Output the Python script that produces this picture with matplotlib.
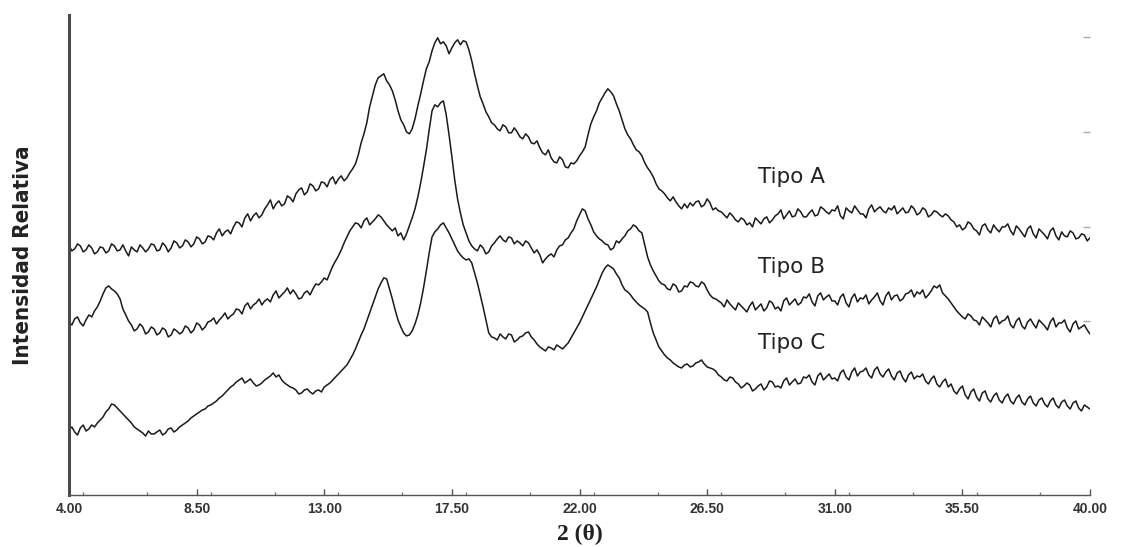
import numpy as np
import matplotlib
matplotlib.use("Agg")
import matplotlib.pyplot as plt
from matplotlib.ticker import MultipleLocator

# 2-theta grid, 0.1 deg steps
two_theta = np.round(np.arange(4.0, 40.0001, 0.1), 1)

tipo_a = [
    250, 244, 246, 251, 249, 243, 245, 250, 247, 241,   # 4
    243, 248, 247, 242, 244, 251, 249, 244, 245, 250,   # 5
    244, 239, 248, 245, 243, 250, 247, 243, 246, 251,   # 6
    250, 244, 245, 252, 249, 243, 247, 254, 252, 247,   # 7
    249, 255, 253, 248, 251, 258, 256, 251, 253, 259,   # 8
    258, 255, 262, 266, 259, 263, 265, 261, 268, 273,   # 9
    272, 268, 277, 281, 274, 279, 282, 277, 280, 286,   # 10
    290, 295, 286, 291, 294, 289, 291, 299, 297, 293,   # 11
    301, 305, 307, 300, 303, 311, 309, 304, 306, 313,   # 12
    312, 308, 315, 318, 311, 316, 319, 314, 317, 322,   # 13
    326, 331, 340, 352, 361, 372, 388, 399, 410, 417,   # 14
    419, 421, 414, 410, 404, 395, 384, 375, 370, 363,   # 15
    361, 366, 376, 389, 401, 414, 426, 433, 444, 452,   # 16
    457, 451, 453, 449, 441, 447, 452, 455, 450, 454,   # 17
    453, 445, 434, 421, 409, 398, 391, 383, 378, 372,   # 18
    370, 366, 364, 370, 368, 362, 362, 367, 363, 358,   # 19
    356, 361, 358, 352, 351, 354, 347, 342, 340, 345,   # 20
    337, 333, 332, 338, 335, 328, 327, 332, 331, 334,   # 21
    339, 343, 348, 360, 371, 378, 384, 392, 397, 402,   # 22
    406, 403, 399, 391, 384, 375, 366, 360, 356, 350,   # 23
    345, 343, 339, 332, 327, 323, 318, 311, 306, 304,   # 24
    301, 297, 294, 298, 293, 289, 286, 291, 287, 292,   # 25
    289, 293, 294, 288, 290, 296, 292, 285, 287, 284,   # 26
    283, 280, 277, 282, 279, 275, 273, 277, 275, 270,   # 27
    272, 268, 277, 274, 271, 276, 278, 272, 275, 279,   # 28
    281, 285, 276, 280, 284, 278, 279, 286, 283, 278,   # 29
    278, 282, 285, 279, 280, 288, 286, 283, 281, 285,   # 30
    284, 289, 279, 276, 287, 284, 282, 289, 285, 281,   # 31
    281, 277, 286, 290, 283, 286, 288, 284, 282, 287,   # 32
    285, 289, 281, 284, 287, 282, 283, 289, 286, 280,   # 33
    282, 287, 285, 278, 280, 284, 283, 280, 278, 281,   # 34
    279, 275, 273, 268, 270, 265, 267, 273, 271, 266,   # 35
    264, 260, 269, 271, 265, 262, 270, 266, 263, 268,   # 36
    268, 271, 264, 260, 269, 266, 262, 258, 266, 269,   # 37
    261, 257, 266, 263, 260, 256, 264, 267, 259, 255,   # 38
    263, 259, 258, 264, 262, 256, 257, 261, 260, 254,   # 39
    257,
]

tipo_b = [
    173, 170, 176, 178, 172, 169, 175, 180, 178, 184,   # 4
    188, 194, 201, 207, 209, 206, 204, 201, 196, 186,   # 5
    180, 174, 170, 164, 166, 171, 168, 161, 163, 168,   # 6
    166, 160, 162, 167, 165, 158, 160, 166, 164, 161,   # 7
    163, 169, 167, 162, 165, 172, 170, 165, 168, 173,   # 8
    174, 177, 171, 175, 178, 182, 176, 179, 181, 186,   # 9
    185, 181, 189, 192, 186, 190, 192, 196, 190, 194,   # 10
    196, 193, 200, 204, 197, 200, 203, 207, 201, 205,   # 11
    201, 196, 197, 202, 204, 200, 206, 211, 210, 213,   # 12
    217, 215, 222, 229, 234, 239, 245, 252, 258, 264,   # 13
    268, 272, 271, 267, 274, 277, 270, 273, 276, 280,   # 14
    278, 274, 270, 267, 264, 267, 259, 262, 255, 261,   # 15
    269, 277, 286, 298, 312, 328, 345, 365, 384, 390,   # 16
    388, 392, 394, 380, 360, 338, 315, 296, 282, 270,   # 17
    262, 254, 249, 246, 244, 250, 247, 241, 243, 249,   # 18
    252, 256, 259, 255, 253, 258, 257, 251, 254, 252,   # 19
    249, 254, 252, 247, 242, 245, 240, 232, 236, 239,   # 20
    241, 238, 245, 249, 250, 255, 257, 262, 266, 274,   # 21
    280, 286, 284, 276, 270, 263, 259, 256, 254, 251,   # 22
    250, 245, 247, 254, 252, 256, 259, 264, 266, 270,   # 23
    268, 264, 262, 250, 238, 230, 224, 219, 214, 211,   # 24
    210, 206, 205, 211, 209, 203, 204, 209, 208, 213,   # 25
    212, 209, 208, 213, 211, 205, 200, 197, 196, 194,   # 26
    192, 188, 195, 191, 188, 185, 192, 189, 186, 183,   # 27
    189, 193, 185, 188, 191, 184, 187, 194, 192, 186,   # 28
    188, 184, 194, 197, 190, 193, 196, 190, 192, 198,   # 29
    197, 201, 193, 189, 199, 202, 195, 198, 200, 194,   # 30
    194, 190, 198, 201, 192, 188, 197, 201, 193, 197,   # 31
    196, 200, 191, 195, 198, 202, 194, 190, 199, 203,   # 32
    195, 199, 200, 194, 196, 201, 202, 205, 198, 203,   # 33
    201, 205, 197, 200, 204, 209, 207, 210, 202, 199,   # 34
    196, 192, 188, 184, 181, 178, 176, 181, 179, 175,   # 35
    174, 170, 178, 175, 172, 168, 176, 179, 171, 174,   # 36
    175, 179, 170, 167, 174, 177, 169, 166, 173, 176,   # 37
    171, 167, 175, 172, 169, 165, 173, 177, 168, 172,   # 38
    172, 175, 167, 163, 171, 174, 166, 168, 170, 165,   # 39
    161,
]

tipo_c = [
    65, 68, 63, 60, 67, 70, 64, 66, 70, 68,             # 4
    72, 75, 78, 83, 86, 91, 90, 87, 84, 81,             # 5
    78, 75, 72, 68, 66, 64, 62, 59, 64, 61,             # 6
    61, 63, 65, 60, 62, 66, 67, 63, 65, 68,             # 7
    70, 72, 74, 77, 79, 81, 83, 85, 86, 89,             # 8
    90, 92, 94, 97, 99, 102, 105, 108, 110, 113,        # 9
    115, 117, 112, 114, 116, 112, 109, 110, 112, 115,   # 10
    117, 119, 122, 118, 120, 115, 112, 110, 108, 107,   # 11
    105, 101, 102, 105, 106, 103, 101, 104, 105, 103,   # 12
    108, 110, 112, 115, 118, 121, 124, 127, 130, 135,   # 13
    140, 146, 153, 160, 166, 174, 182, 190, 198, 206,   # 14
    212, 217, 216, 206, 196, 185, 175, 168, 162, 159,   # 15
    160, 164, 171, 180, 192, 207, 224, 242, 258, 263,   # 16
    266, 270, 272, 267, 262, 256, 250, 244, 240, 237,   # 17
    235, 236, 232, 222, 212, 200, 188, 175, 162, 158,   # 18
    157, 155, 161, 158, 156, 161, 160, 153, 155, 158,   # 19
    159, 162, 163, 158, 155, 151, 148, 146, 144, 148,   # 20
    147, 145, 150, 148, 146, 149, 152, 157, 162, 167,   # 21
    172, 178, 184, 190, 196, 202, 208, 215, 222, 227,   # 22
    230, 228, 226, 221, 217, 210, 205, 203, 200, 196,   # 23
    193, 190, 188, 186, 183, 172, 162, 155, 148, 144,   # 24
    140, 137, 135, 132, 130, 128, 127, 130, 131, 128,   # 25
    129, 132, 133, 135, 131, 128, 127, 126, 124, 120,   # 26
    118, 115, 114, 118, 117, 113, 111, 107, 109, 112,   # 27
    110, 104, 106, 109, 111, 105, 108, 114, 113, 108,   # 28
    109, 107, 114, 117, 110, 113, 116, 111, 112, 118,   # 29
    117, 120, 113, 110, 119, 122, 115, 118, 121, 116,   # 30
    117, 114, 122, 125, 118, 115, 123, 127, 119, 123,   # 31
    124, 127, 120, 117, 125, 128, 121, 118, 123, 126,   # 32
    119, 115, 122, 124, 117, 113, 120, 123, 116, 119,   # 33
    118, 121, 114, 111, 116, 119, 111, 108, 113, 116,   # 34
    108, 111, 104, 101, 106, 109, 100, 96, 103, 106,    # 35
    98, 94, 102, 104, 96, 93, 99, 102, 95, 92,          # 36
    98, 101, 94, 91, 97, 100, 93, 90, 96, 99,           # 37
    92, 89, 95, 97, 91, 88, 94, 97, 90, 87,             # 38
    93, 95, 89, 86, 92, 94, 87, 84, 90, 88,             # 39
    86,
]

series = [("Tipo A", tipo_a), ("Tipo B", tipo_b), ("Tipo C", tipo_c)]
# where each label sits (2theta, intensity)
label_pos = {"Tipo A": (28.3, 318), "Tipo B": (28.3, 228), "Tipo C": (28.3, 152)}

xticks = [4.00, 8.50, 13.00, 17.50, 22.00, 26.50, 31.00, 35.50, 40.00]

fig = plt.figure(figsize=(11.22, 5.47), dpi=100)
ax = fig.add_axes([0.0615, 0.095, 0.91, 0.878])

for name, vals in series:
    ax.plot(two_theta, vals, color="#1a1a1a", linewidth=1.1)
    lx, ly = label_pos[name]
    ax.text(lx, ly, name, fontsize=15.5, family="DejaVu Sans",
            color="#222222", va="center", ha="left")

ax.set_xlim(4, 40)
ax.set_ylim(0, 480)

ax.set_xticks(xticks)
ax.set_xticklabels([f"{t:.2f}" for t in xticks])
ax.xaxis.set_minor_locator(MultipleLocator(2.25))
ax.tick_params(axis="x", which="major", direction="in", length=4, width=1,
               color="#555555", labelsize=10, labelcolor="#333333", pad=5)
ax.tick_params(axis="x", which="minor", direction="in", length=2, width=1,
               color="#777777")
for lab in ax.get_xticklabels():
    lab.set_fontweight("bold")
    lab.set_family(["Liberation Sans", "DejaVu Sans"])

# faint marks on the right edge, no labels
ax.set_yticks([458, 363, 268, 174])
ax.tick_params(axis="y", left=False, right=True, labelleft=False,
               direction="in", length=5, width=1, color="#aaaaaa")

ax.spines["top"].set_visible(False)
ax.spines["right"].set_visible(False)
ax.spines["left"].set_linewidth(2.2)
ax.spines["left"].set_color("#4a4a4a")
ax.spines["bottom"].set_linewidth(1.0)
ax.spines["bottom"].set_color("#555555")

ax.set_ylabel("Intensidad Relativa", fontsize=16, fontweight="bold",
              family="DejaVu Sans", fontstretch="condensed",
              color="#222222")
ax.yaxis.set_label_coords(-0.035, 0.5)
ax.set_xlabel("2 (θ)", fontsize=17, fontweight="bold",
              family=["Liberation Serif", "DejaVu Serif"], color="#222222",
              labelpad=6)

fig.savefig("out.png", dpi=100)
